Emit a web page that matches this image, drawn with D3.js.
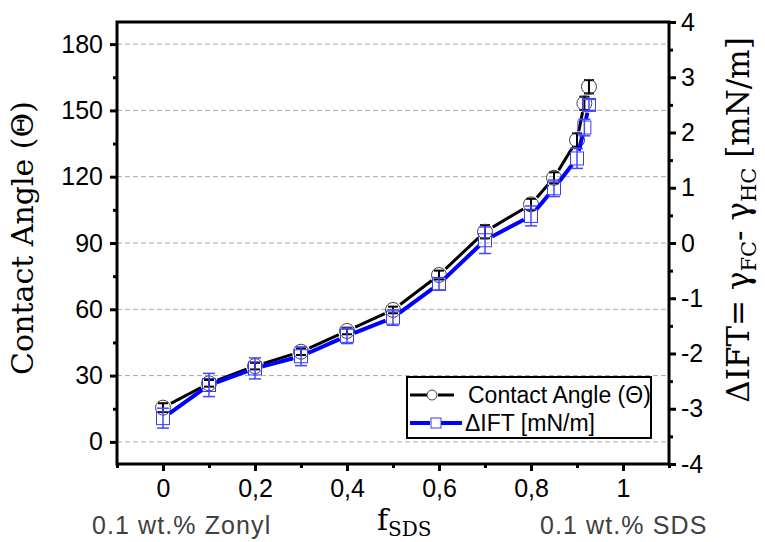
<!DOCTYPE html>
<html>
<head>
<meta charset="utf-8">
<script src="https://cdn.jsdelivr.net/npm/d3@7"></script>
<style>
  body { margin: 0; background: #fff; }
  svg { display: block; }
</style>
</head>
<body>
<div id="chart"></div>
<script>
// contact angle and interfacial tension difference vs SDS fraction

// data
const fSDS = [0, 0.1, 0.2, 0.3, 0.4, 0.5, 0.6, 0.7, 0.8, 0.85, 0.9, 0.916, 0.926];
const contactAngle = [15.5, 26.5, 34.3, 40.8, 50.2, 59.7, 75.5, 95.1, 107.5, 119.5, 136.6, 153.2, 160.7];
const contactAngleErr = [2, 1.5, 1.5, 1.5, 1.5, 1.5, 2, 3, 2.5, 2.5, 3, 3, 3];
const deltaIFT = [-3.17, -2.57, -2.27, -2.05, -1.68, -1.35, -0.74, 0.05, 0.49, 0.99, 1.53, 2.09, 2.5];
const deltaIFTErr = [0.18, 0.21, 0.19, 0.17, 0.14, 0.14, 0.11, 0.24, 0.18, 0.15, 0.18, 0.15, 0.1];

const xTicks = [0, 0.2, 0.4, 0.6, 0.8, 1];
const xMinor = [-0.1, 0.1, 0.3, 0.5, 0.7, 0.9, 1.1];
const leftTicks = [0, 30, 60, 90, 120, 150, 180];
const leftMinor = [15, 45, 75, 105, 135, 165];
const rightTicks = [-4, -3, -2, -1, 0, 1, 2, 3, 4];
const rightMinor = [-3.5, -2.5, -1.5, -0.5, 0.5, 1.5, 2.5, 3.5];

const width = 765, height = 542;
const margin = { top: 22, right: 96, bottom: 78, left: 117 };
const innerW = width - margin.left - margin.right;
const innerH = height - margin.top - margin.bottom;

const svg = d3.select("#chart").append("svg")
  .attr("width", width)
  .attr("height", height);

const g = svg.append("g")
  .attr("transform", `translate(${margin.left},${margin.top})`);

const x = d3.scaleLinear().domain([-0.1, 1.1]).range([0, innerW]);
const yL = d3.scaleLinear().domain([-10, 190]).range([innerH, 0]);
const yR = d3.scaleLinear().domain([-4, 4]).range([innerH, 0]);

const tickFont = "'Liberation Sans', Arial, sans-serif";
const serif = "'DejaVu Serif', serif";
const comma = d => String(d).replace(".", ",");
const plain = d => String(d); // keeps hyphen minus like the original

// dashed grid at left majors
g.append("g")
  .selectAll("line")
  .data(leftTicks)
  .join("line")
  .attr("x1", 0).attr("x2", innerW)
  .attr("y1", d => yL(d)).attr("y2", d => yL(d))
  .attr("stroke", "#a8a8a8")
  .attr("stroke-width", 1)
  .attr("stroke-dasharray", "5,3");

// axes
function styleAxis(sel) {
  sel.select(".domain").remove();
  sel.selectAll(".tick line").attr("stroke", "#000").attr("stroke-width", 3);
  sel.selectAll(".tick text")
    .attr("fill", "#000")
    .style("font-family", tickFont)
    .style("font-size", "25px");
}

g.append("g")
  .attr("transform", `translate(0,${innerH})`)
  .call(d3.axisBottom(x).tickValues(xTicks).tickSize(7).tickPadding(8).tickFormat(comma))
  .call(styleAxis);
g.append("g")
  .attr("transform", `translate(0,${innerH})`)
  .call(d3.axisBottom(x).tickValues(xMinor).tickSize(4).tickFormat(""))
  .call(styleAxis);

g.append("g")
  .call(d3.axisLeft(yL).tickValues(leftTicks).tickSize(7).tickPadding(7).tickFormat(plain))
  .call(styleAxis);
g.append("g")
  .call(d3.axisLeft(yL).tickValues(leftMinor).tickSize(4).tickFormat(""))
  .call(styleAxis);

g.append("g")
  .attr("transform", `translate(${innerW},0)`)
  .call(d3.axisRight(yR).tickValues(rightTicks).tickSize(7).tickPadding(5).tickFormat(plain))
  .call(styleAxis);
g.append("g")
  .attr("transform", `translate(${innerW},0)`)
  .call(d3.axisRight(yR).tickValues(rightMinor).tickSize(4).tickFormat(""))
  .call(styleAxis);

// frame
g.append("rect")
  .attr("width", innerW)
  .attr("height", innerH)
  .attr("fill", "none")
  .attr("stroke", "#000")
  .attr("stroke-width", 3);

// series
const angleData = fSDS.map((f, i) => ({ f, v: contactAngle[i], e: contactAngleErr[i] }));
const iftData = fSDS.map((f, i) => ({ f, v: deltaIFT[i], e: deltaIFTErr[i] }));

// line broken around each marker (Origin style)
function gappedPath(pts, gap) {
  let d = "";
  for (let i = 0; i < pts.length - 1; i++) {
    const [x0, y0] = pts[i], [x1, y1] = pts[i + 1];
    const len = Math.hypot(x1 - x0, y1 - y0);
    if (len <= 2 * gap + 2) continue;
    const ux = (x1 - x0) / len, uy = (y1 - y0) / len;
    d += `M${x0 + ux * gap},${y0 + uy * gap}L${x1 - ux * gap},${y1 - uy * gap}`;
  }
  return d;
}

function drawSeries(data, y, opt) {
  const s = g.append("g");
  const pts = data.map(d => [x(d.f), y(d.v)]);
  s.append("path")
    .attr("d", gappedPath(pts, opt.gap))
    .attr("fill", "none")
    .attr("stroke", opt.line)
    .attr("stroke-width", opt.lineWidth);

  // error bars
  const eb = s.append("g")
    .attr("stroke", opt.err)
    .attr("stroke-width", opt.errWidth)
    .selectAll("g")
    .data(data)
    .join("g");
  eb.append("line")
    .attr("x1", d => x(d.f)).attr("x2", d => x(d.f))
    .attr("y1", d => y(d.v - d.e)).attr("y2", d => y(d.v + d.e));
  eb.append("line")
    .attr("x1", d => x(d.f) - opt.cap).attr("x2", d => x(d.f) + opt.cap)
    .attr("y1", d => y(d.v - d.e)).attr("y2", d => y(d.v - d.e));
  eb.append("line")
    .attr("x1", d => x(d.f) - opt.cap).attr("x2", d => x(d.f) + opt.cap)
    .attr("y1", d => y(d.v + d.e)).attr("y2", d => y(d.v + d.e));

  // markers
  if (opt.shape === "circle") {
    s.selectAll("circle")
      .data(data)
      .join("circle")
      .attr("cx", d => x(d.f))
      .attr("cy", d => y(d.v))
      .attr("r", 7.5)
      .attr("fill", "none")
      .attr("stroke", opt.marker)
      .attr("stroke-width", 1);
  } else {
    s.selectAll("rect")
      .data(data)
      .join("rect")
      .attr("x", d => x(d.f) - 6.5)
      .attr("y", d => y(d.v) - 6.5)
      .attr("width", 13)
      .attr("height", 13)
      .attr("fill", "none")
      .attr("stroke", opt.marker)
      .attr("stroke-width", 1);
  }
}

drawSeries(angleData, yL, {
  line: "#000", lineWidth: 3, gap: 9,
  err: "#000", errWidth: 2, cap: 5,
  marker: "#444", shape: "circle"
});
drawSeries(iftData, yR, {
  line: "#0000ff", lineWidth: 4, gap: 8,
  err: "#4646ff", errWidth: 1.5, cap: 6,
  marker: "#3a3aff", shape: "square"
});

// legend
const lg = svg.append("g").attr("transform", "translate(407,377)");
lg.append("rect")
  .attr("width", 244).attr("height", 61)
  .attr("fill", "#fff")
  .attr("stroke", "#000")
  .attr("stroke-width", 2);
lg.append("path")
  .attr("d", "M3,18H20M31,18H47")
  .attr("stroke", "#000").attr("stroke-width", 3);
lg.append("circle")
  .attr("cx", 25).attr("cy", 18).attr("r", 5)
  .attr("fill", "none").attr("stroke", "#444");
lg.append("text")
  .attr("x", 61).attr("y", 18).attr("dy", "0.35em")
  .style("font-family", tickFont).style("font-size", "23px")
  .text("Contact Angle (Θ)");
lg.append("path")
  .attr("d", "M3,46H23M34,46H55")
  .attr("stroke", "#0000ff").attr("stroke-width", 4);
lg.append("rect")
  .attr("x", 24).attr("y", 41).attr("width", 10).attr("height", 10)
  .attr("fill", "none").attr("stroke", "#3a3aff");
lg.append("text")
  .attr("x", 58).attr("y", 46).attr("dy", "0.35em")
  .style("font-family", tickFont).style("font-size", "23px")
  .text("ΔIFT [mN/m]");

// axis titles
svg.append("text")
  .attr("transform", `translate(33,${margin.top + innerH / 2 - 5}) rotate(-90)`)
  .attr("text-anchor", "middle")
  .style("font-family", serif).style("font-size", "30px")
  .text("Contact Angle (Θ)");

const rt = svg.append("text")
  .attr("transform", `translate(749,220) rotate(-90)`)
  .attr("text-anchor", "middle")
  .style("font-family", serif).style("font-size", "31px");
rt.append("tspan").text("ΔIFT= γ");
rt.append("tspan").attr("dy", 7).style("font-size", "21px").text("FC");
rt.append("tspan").attr("dy", -7).text("- γ");
rt.append("tspan").attr("dy", 7).style("font-size", "21px").text("HC");
rt.append("tspan").attr("dy", -7).text(" [mN/m]");

const xt = svg.append("text")
  .attr("x", 377).attr("y", 530)
  .style("font-family", serif).style("font-size", "30px");
xt.append("tspan").text("f");
xt.append("tspan").attr("dy", 6).style("font-size", "20px").text("SDS");

// end-member notes under the axis
svg.append("text")
  .attr("x", 92).attr("y", 534)
  .attr("fill", "#404040")
  .style("font-family", tickFont).style("font-size", "25px")
  .style("letter-spacing", "1.1px")
  .text("0.1 wt.% Zonyl");
svg.append("text")
  .attr("x", 540).attr("y", 534)
  .attr("fill", "#404040")
  .style("font-family", tickFont).style("font-size", "25px")
  .style("letter-spacing", "1.1px")
  .text("0.1 wt.% SDS");
</script>
</body>
</html>
